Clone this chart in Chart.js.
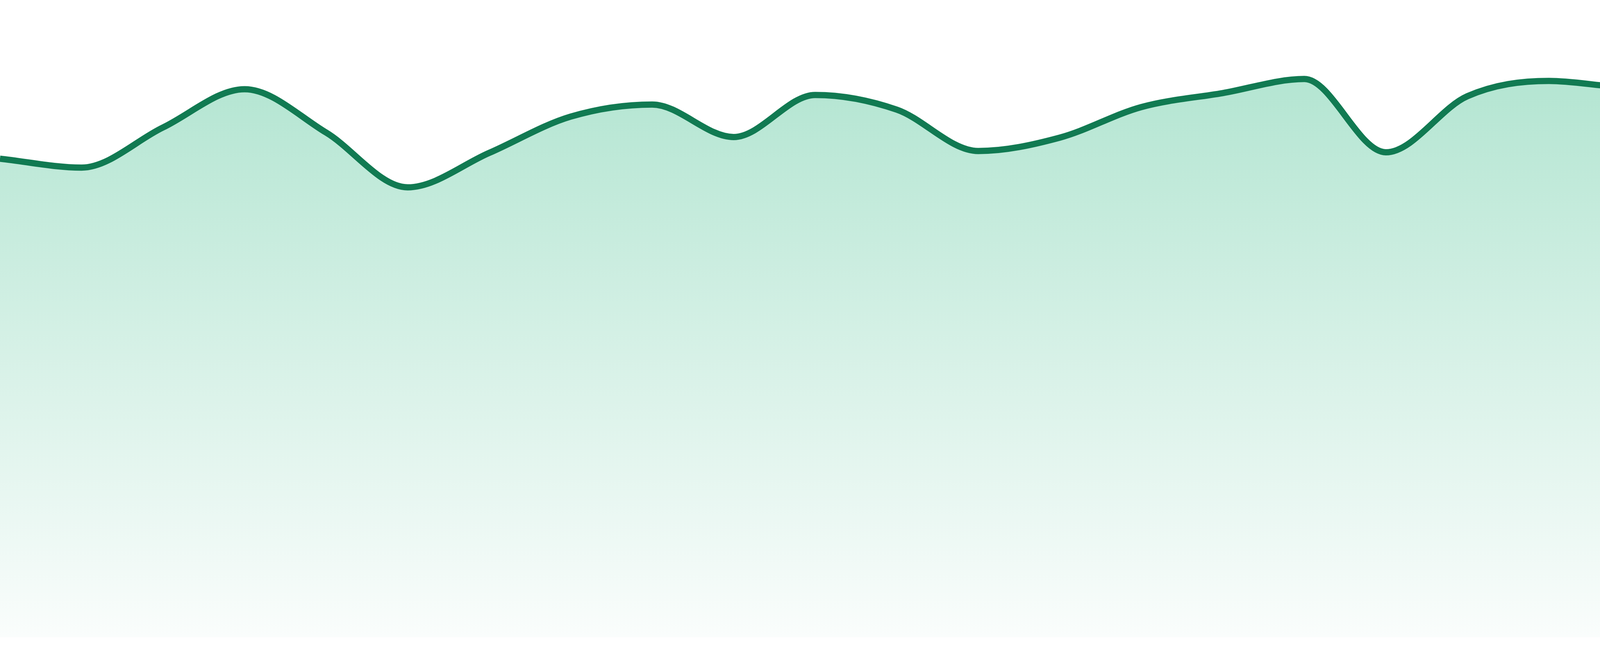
<!DOCTYPE html>
<html>
<head>
<meta charset="utf-8">
<script src="https://cdn.jsdelivr.net/npm/chart.js@4"></script>
<style>
  html, body { margin: 0; padding: 0; background: #ffffff; }
  #wrap { width: 4800px; height: 1680px; position: relative; }
</style>
</head>
<body>
<div id="wrap"><canvas id="c"></canvas></div>
<script>
const categories = ["1","2","3","4","5","6","7","8","9","10","11","12","13","14","15","16","17","18","19","20","21","22","23","24"];
const seriesValues = [75.1, 73.7, 80.0, 86.0, 79.2, 70.6, 76.0, 81.7, 83.6, 78.5, 85.1, 82.8, 76.3, 78.4, 83.2, 85.4, 87.6, 76.1, 84.9, 87.3, 86.3, 87.0, 83.5, 81.9];
const yMin = 0;
const yMax = 100;

const ctx = document.getElementById('c').getContext('2d');
new Chart(ctx, {
  type: 'line',
  data: {
    labels: categories,
    datasets: [{
      data: seriesValues,
      borderColor: '#117a52',
      borderWidth: 16,
      pointRadius: 0,
      pointHoverRadius: 0,
      fill: 'start',
      cubicInterpolationMode: 'monotone',
      backgroundColor: (context) => {
        const chart = context.chart;
        const area = chart.chartArea;
        if (!area) return 'rgba(176,229,208,1)';
        const g = chart.ctx.createLinearGradient(0, area.top, 0, area.bottom);
        g.addColorStop(0, 'rgb(170,226,204)');
        g.addColorStop(1, 'rgb(250,253,252)');
        return g;
      }
    }]
  },
  options: {
    responsive: true,
    maintainAspectRatio: false,
    animation: false,
    layout: { padding: { top: 0, bottom: 48, left: 0, right: 0 } },
    plugins: { legend: { display: false }, tooltip: { enabled: false } },
    scales: {
      x: { display: false, offset: false },
      y: { display: false, min: yMin, max: yMax }
    }
  }
});
</script>
</body>
</html>
